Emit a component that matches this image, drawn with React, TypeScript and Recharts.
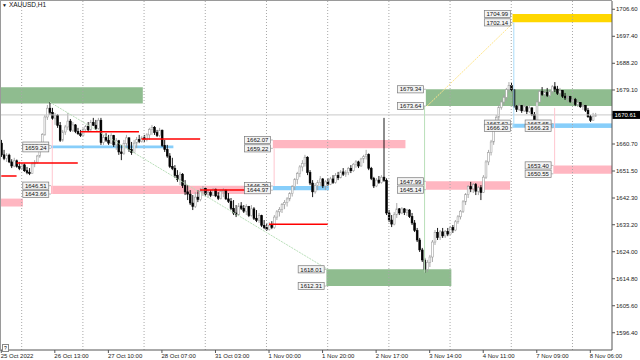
import React from 'react';
import { ComposedChart, Bar, XAxis, YAxis, ReferenceArea, ReferenceLine, ReferenceDot } from 'recharts';

const opens = [
  1661.0,1657.0,1655.8,1656.9,1654.6,1653.2,1655.0,1653.0,1652.4,1653.6,
  1651.6,1651.0,1650.6,1653.9,1654.5,1656.6,1659.8,1663.9,1669.9,1672.9,
  1671.5,1669.5,1670.5,1667.0,1662.0,1664.8,1666.5,1668.5,1665.4,1667.2,
  1665.0,1664.2,1663.6,1665.6,1666.7,1665.5,1668.0,1667.1,1666.0,1668.8,
  1661.2,1662.9,1662.0,1661.0,1663.6,1660.4,1661.8,1658.0,1657.4,1660.9,
  1662.8,1658.8,1657.8,1661.0,1662.2,1661.6,1662.8,1662.2,1663.8,1665.6,
  1666.4,1664.6,1663.6,1665.4,1660.2,1658.8,1656.6,1653.0,1652.4,1650.0,
  1648.6,1650.4,1646.6,1644.4,1643.6,1640.6,1639.4,1642.6,1641.8,1644.6,
  1645.6,1643.6,1644.2,1643.2,1645.3,1643.0,1642.2,1644.6,1644.9,1642.0,
  1641.2,1638.8,1637.2,1636.6,1639.6,1638.8,1637.8,1639.4,1636.3,1638.6,
  1635.4,1634.7,1636.3,1633.0,1632.2,1631.6,1633.0,1632.2,1635.8,1637.6,
  1638.4,1640.1,1640.8,1642.0,1643.8,1646.2,1648.6,1650.6,1652.9,1654.0,
  1656.2,1651.0,1647.4,1644.4,1646.6,1647.6,1648.8,1646.4,1647.8,1647.0,
  1648.8,1647.6,1650.0,1649.2,1651.2,1650.4,1651.0,1652.4,1651.6,1653.8,
  1654.6,1653.2,1655.6,1656.4,1657.2,1652.4,1649.0,1646.4,1648.4,1647.6,
  1649.4,1648.3,1637.2,1634.8,1633.4,1636.6,1638.6,1637.2,1638.6,1637.4,
  1638.2,1636.0,1633.8,1631.2,1628.0,1624.6,1621.2,1618.0,1620.4,1622.2,
  1627.3,1630.6,1628.8,1630.8,1629.4,1630.9,1630.0,1632.2,1631.4,1634.2,
  1635.9,1637.8,1641.0,1643.5,1646.2,1645.4,1646.9,1644.6,1645.8,1644.2,
  1649.4,1654.6,1657.8,1661.4,1666.4,1669.8,1673.2,1675.0,1676.6,1679.2,
  1680.6,1679.2,1673.6,1672.4,1673.8,1672.0,1673.4,1671.8,1673.0,1670.8,
  1668.8,1675.0,1678.6,1677.6,1678.2,1677.2,1678.6,1680.2,1679.4,1678.0,
  1678.9,1677.0,1676.4,1676.9,1675.2,1675.8,1674.2,1674.8,1673.4,1673.8,
  1672.2,1670.0,1668.8,1670.2,
];

const highs = [
  1662.1,1658.7,1657.6,1657.4,1655.5,1656.0,1655.4,1654.6,1654.2,1654.0,
  1652.9,1652.5,1654.6,1655.2,1657.0,1660.4,1664.4,1670.6,1674.0,1675.0,
  1673.0,1671.3,1670.9,1668.2,1665.5,1667.2,1671.3,1669.2,1668.2,1667.5,
  1666.2,1665.5,1666.2,1667.2,1668.2,1668.9,1669.6,1668.9,1669.6,1669.6,
  1663.8,1664.4,1663.8,1664.4,1663.8,1662.7,1662.1,1660.4,1662.1,1663.8,
  1663.0,1661.4,1662.1,1663.1,1663.8,1663.4,1663.8,1664.4,1666.2,1667.2,
  1666.8,1665.5,1666.2,1665.6,1662.1,1660.4,1657.6,1656.0,1653.5,1651.8,
  1651.2,1650.8,1648.4,1646.7,1645.0,1643.3,1644.3,1645.0,1645.7,1646.4,
  1645.9,1645.0,1645.0,1645.7,1645.5,1644.3,1645.0,1645.7,1645.2,1644.0,
  1642.3,1641.6,1639.9,1640.6,1640.9,1639.9,1640.2,1639.6,1639.9,1639.2,
  1638.2,1637.2,1636.6,1634.8,1633.8,1634.1,1634.4,1636.5,1638.2,1639.2,
  1640.6,1641.6,1642.6,1644.3,1646.7,1649.1,1651.2,1653.5,1655.2,1657.0,
  1656.5,1651.8,1648.4,1647.4,1648.4,1649.8,1649.1,1648.4,1649.1,1649.5,
  1650.1,1650.8,1651.2,1651.8,1652.5,1651.8,1652.9,1653.5,1654.2,1655.2,
  1655.0,1656.0,1657.0,1658.7,1657.5,1652.9,1649.5,1649.1,1649.8,1650.1,
  1669.6,1649.0,1638.2,1636.5,1637.5,1640.6,1638.9,1639.2,1638.9,1638.6,
  1638.5,1637.2,1634.8,1632.1,1628.7,1625.3,1621.9,1621.2,1622.9,1628.0,
  1631.4,1632.1,1631.4,1632.1,1631.4,1632.1,1632.8,1633.1,1634.8,1636.5,
  1638.2,1641.6,1644.0,1646.7,1647.8,1647.4,1647.4,1646.4,1646.7,1650.1,
  1655.2,1658.7,1662.1,1667.2,1670.6,1674.0,1675.7,1677.4,1679.8,1681.8,
  1681.5,1679.4,1674.0,1674.7,1674.0,1674.3,1673.6,1674.0,1673.2,1671.6,
  1675.7,1679.1,1680.1,1679.1,1679.8,1679.1,1680.8,1681.8,1680.5,1679.8,
  1679.1,1678.1,1677.4,1677.1,1676.4,1676.4,1675.7,1675.0,1674.3,1674.0,
  1673.0,1670.6,1671.3,1671.3,
];

const lows = [
  1656.3,1655.2,1654.6,1654.2,1652.5,1652.8,1652.6,1651.8,1651.9,1651.2,
  1650.4,1650.1,1650.5,1652.8,1654.0,1656.0,1658.7,1663.5,1668.9,1670.6,
  1668.9,1667.2,1666.2,1661.4,1661.5,1663.8,1665.5,1664.8,1664.8,1664.4,
  1663.8,1663.1,1663.3,1664.8,1665.0,1665.2,1666.8,1665.5,1665.6,1660.4,
  1660.4,1661.4,1660.4,1660.8,1659.7,1658.7,1657.0,1655.2,1657.0,1659.3,
  1658.0,1657.0,1657.6,1659.3,1661.0,1661.2,1661.4,1661.6,1662.1,1663.8,
  1663.8,1663.1,1663.0,1659.7,1658.0,1656.0,1652.5,1651.8,1649.1,1647.8,
  1646.7,1645.7,1643.3,1641.6,1639.9,1638.2,1638.9,1640.9,1641.2,1643.0,
  1643.0,1642.3,1642.6,1643.0,1642.6,1641.6,1641.8,1642.6,1641.6,1640.6,
  1638.2,1636.5,1635.8,1636.2,1638.2,1637.2,1636.5,1635.8,1636.0,1634.8,
  1634.1,1633.8,1632.4,1631.7,1631.1,1631.2,1631.7,1631.8,1634.8,1636.0,
  1637.2,1638.5,1639.4,1641.2,1642.8,1645.0,1647.0,1649.4,1651.4,1653.0,
  1650.1,1646.7,1642.6,1643.8,1645.0,1646.4,1645.7,1645.0,1646.4,1646.7,
  1647.1,1647.2,1648.4,1649.0,1649.8,1649.5,1650.1,1650.8,1651.2,1652.6,
  1652.5,1653.0,1654.2,1655.4,1651.8,1648.4,1645.7,1646.0,1647.1,1647.2,
  1647.8,1636.5,1634.1,1632.4,1633.0,1635.5,1636.5,1636.8,1636.5,1636.2,
  1635.5,1633.1,1630.7,1627.3,1623.9,1620.5,1616.8,1617.1,1618.8,1620.5,
  1626.3,1628.0,1628.0,1628.7,1628.7,1629.3,1629.8,1630.4,1631.0,1633.5,
  1635.0,1637.2,1639.9,1642.3,1644.3,1644.0,1643.3,1643.3,1641.6,1644.0,
  1648.8,1653.5,1656.8,1660.4,1665.5,1668.6,1672.4,1674.0,1675.4,1678.4,
  1678.4,1673.0,1671.6,1672.0,1671.3,1671.6,1670.9,1671.3,1670.2,1668.2,
  1668.4,1674.6,1677.1,1676.4,1676.7,1676.4,1677.7,1678.4,1677.4,1677.1,
  1676.4,1675.7,1675.0,1674.7,1674.3,1673.6,1673.3,1673.0,1672.3,1671.6,
  1669.6,1668.2,1668.6,1670.0,
];

const closes = [
  1657.0,1655.8,1656.9,1654.6,1653.2,1655.0,1653.0,1652.4,1653.6,1651.6,
  1651.0,1650.6,1653.9,1654.5,1656.6,1659.8,1663.9,1669.9,1672.9,1671.5,
  1669.5,1670.5,1667.0,1662.0,1664.8,1666.5,1668.5,1665.4,1667.2,1665.0,
  1664.2,1663.6,1665.6,1666.7,1665.5,1668.0,1667.1,1666.0,1668.8,1661.2,
  1662.9,1662.0,1661.0,1663.6,1660.4,1661.8,1658.0,1657.4,1660.9,1662.8,
  1658.8,1657.8,1661.0,1662.2,1661.6,1662.8,1662.2,1663.8,1665.6,1666.4,
  1664.6,1663.6,1665.4,1660.2,1658.8,1656.6,1653.0,1652.4,1650.0,1648.6,
  1650.4,1646.6,1644.4,1643.6,1640.6,1639.4,1642.6,1641.8,1644.6,1645.6,
  1643.6,1644.2,1643.2,1645.3,1643.0,1642.2,1644.6,1644.9,1642.0,1641.2,
  1638.8,1637.2,1636.6,1639.6,1638.8,1637.8,1639.4,1636.3,1638.6,1635.4,
  1634.7,1636.3,1633.0,1632.2,1631.6,1633.0,1632.2,1635.8,1637.6,1638.4,
  1640.1,1640.8,1642.0,1643.8,1646.2,1648.6,1650.6,1652.9,1654.0,1656.2,
  1651.0,1647.4,1644.4,1646.6,1647.6,1648.8,1646.4,1647.8,1647.0,1648.8,
  1647.6,1650.0,1649.2,1651.2,1650.4,1651.0,1652.4,1651.6,1653.8,1654.6,
  1653.2,1655.6,1656.4,1657.2,1652.4,1649.0,1646.4,1648.4,1647.6,1649.4,
  1648.3,1637.2,1634.8,1633.4,1636.6,1638.6,1637.2,1638.6,1637.4,1638.2,
  1636.0,1633.8,1631.2,1628.0,1624.6,1621.2,1618.0,1620.4,1622.2,1627.3,
  1630.6,1628.8,1630.8,1629.4,1630.9,1630.0,1632.2,1631.4,1634.2,1635.9,
  1637.8,1641.0,1643.5,1646.2,1645.4,1646.9,1644.6,1645.8,1644.2,1649.4,
  1654.6,1657.8,1661.4,1666.4,1669.8,1673.2,1675.0,1676.6,1679.2,1680.6,
  1679.2,1673.6,1672.4,1673.8,1672.0,1673.4,1671.8,1673.0,1670.8,1668.8,
  1675.0,1678.6,1677.6,1678.2,1677.2,1678.6,1680.2,1679.4,1678.0,1678.9,
  1677.0,1676.4,1676.9,1675.2,1675.8,1674.2,1674.8,1673.4,1673.8,1672.2,
  1670.0,1668.8,1670.2,1670.61,
];

const SLOTS = 240;
const xTickIdx = [0, 21, 42, 63, 84, 105, 126, 147, 168, 189, 210, 231];
const xTickLabels = ['25 Oct 2022', '26 Oct 13:00', '27 Oct 10:00', '28 Oct 07:00', '31 Oct 03:00', '1 Nov 00:00', '1 Nov 20:00', '2 Nov 17:00', '3 Nov 14:00', '4 Nov 11:00', '7 Nov 09:00', '8 Nov 06:00'];
const gridIdx = [8, 32, 56, 80, 104, 128, 152, 176, 200, 224];
const priceTicks = [1706.6, 1697.4, 1688.2, 1679.1, 1660.7, 1651.5, 1642.3, 1633.2, 1624.0, 1614.8, 1605.6, 1596.4];
const currentPrice = 1670.61;
const priceDomain = [1590.52, 1709.42];

// [startIdx, endIdx, top, bottom, kind, labeled]
const zones: [number, number, number, number, string, boolean][] = [
  [0, 55, 1680.0, 1674.5, 'green', false],
  [167, 239, 1679.34, 1673.64, 'green', true],
  [201, 239, 1704.99, 1702.14, 'gold', true],
  [20, 105, 1646.51, 1643.66, 'pink', true],
  [20, 67, 1660.15, 1659.24, 'blue', true],
  [107, 158, 1662.07, 1659.22, 'pink', true],
  [107, 128, 1646.39, 1644.97, 'blue', true],
  [128, 176, 1618.01, 1612.31, 'green', true],
  [167, 199, 1647.99, 1645.14, 'pink', true],
  [201, 239, 1667.62, 1666.2, 'blue', true],
  [217, 239, 1667.65, 1666.23, 'blue', true],
  [217, 239, 1653.4, 1650.55, 'pink', true],
  [0, 8, 1642.1, 1639.4, 'pink', false],
];

// [fromIdx, toIdx, price]
const redLevels: [number, number, number][] = [
  [0, 6, 1649.8], [6, 30, 1654.2], [31, 54, 1664.9], [55, 78, 1662.4], [78, 105, 1645.0], [105, 128, 1633.4],
];

// [idx, fromPrice, toPrice, kind]
const markers: [number, number, number, string][] = [
  [20, 1669.0, 1643.66, 'pink'],
  [107, 1659.22, 1646.39, 'pink'],
  [166, 1673.64, 1616.8, 'green'],
  [201, 1702.14, 1666.2, 'blue'],
  [217, 1673.0, 1653.4, 'pink'],
];

// [fromIdx, fromPrice, toIdx, toPrice, kind]
const trendLines: [number, number, number, number, string][] = [
  [19, 1675.0, 128, 1618.01, 'green'],
  [167, 1673.64, 201, 1702.14, 'gold'],
];

const zoneColors: Record<string, string> = { green: '#8fbc8f', gold: '#ffd700', pink: '#ffb6c1', blue: '#87cefa' };
const thinColors: Record<string, string> = { green: '#b9dfb9', gold: '#ffe68a', pink: '#ffc6cf', blue: '#a9dbf8' };
const FONT = '"Liberation Sans", Arial, sans-serif';

const data = Array.from({ length: SLOTS }, (_, i) =>
  i < closes.length
    ? { i, o: opens[i], h: highs[i], l: lows[i], c: closes[i], range: [lows[i], highs[i]] }
    : { i, range: null }
);

const Candle = (props: any) => {
  const { x, y, width, height, payload } = props;
  if (!payload || payload.c == null || height == null) return null;
  const { o, h, l, c } = payload;
  const top = Math.min(y, y + height);
  const hh = Math.abs(height);
  const k = h > l ? hh / (h - l) : 0;
  const yo = top + (h - o) * k;
  const yc = top + (h - c) * k;
  const cx = x + width / 2;
  const bull = c >= o;
  const bodyTop = Math.min(yo, yc);
  const bodyH = Math.max(Math.abs(yc - yo), 0.9);
  const col = bull ? '#a0a0a0' : '#000000';
  return (
    <g>
      <line x1={cx} x2={cx} y1={top} y2={top + hh} stroke={col} strokeWidth={0.9} />
      <rect x={cx - 0.9} y={bodyTop} width={1.8} height={bodyH} fill={bull ? '#ffffff' : '#000000'} stroke={col} strokeWidth={0.6} />
    </g>
  );
};

const PriceTag = ({ cx, cy, value }: { cx: number; cy: number; value: number }) => (
  <g>
    <rect x={cx - 29.5} y={cy - 3.6} width={26} height={7.2} fill="#f4f4f4" stroke="#7a7a7a" strokeWidth={0.7} />
    <line x1={cx - 3.5} x2={cx - 1.3} y1={cy} y2={cy} stroke="#9a9a9a" strokeWidth={0.7} />
    <text x={cx - 16.5} y={cy + 2.2} textAnchor="middle" fontSize={6} fontFamily={FONT} fill="#111">{value.toFixed(2)}</text>
  </g>
);

const XTick = (props: any) => {
  const { x, payload } = props;
  const k = xTickIdx.indexOf(payload.value);
  if (k < 0) return null;
  return (
    <text x={x - 0.5} y={357.5} fontSize={6} fontFamily={FONT} fill="#222" textAnchor="start">{xTickLabels[k]}</text>
  );
};

const YTick = (props: any) => {
  const { y, payload } = props;
  const v = payload.value;
  if (v === currentPrice) {
    return (
      <g>
        <rect x={612.5} y={y - 4} width={27.5} height={8} fill="#000" />
        <text x={614.5} y={y + 2.2} fontSize={6} fontFamily={FONT} fill="#fff">{v.toFixed(2)}</text>
      </g>
    );
  }
  return <text x={616} y={y + 2.2} fontSize={6} fontFamily={FONT} fill="#222">{v.toFixed(2)}</text>;
};

export default function App() {
  return (
    <div style={{ position: 'absolute', left: 0, top: 0, width: 640, height: 360, background: '#fff', overflow: 'hidden' }}>
      <ComposedChart width={640} height={360} data={data} margin={{ top: 1, right: 0, bottom: 0, left: 0 }} barCategoryGap={0} barGap={0}>
        <XAxis
          dataKey="i"
          type="category"
          ticks={xTickIdx}
          interval={0}
          tick={<XTick />}
          tickSize={3}
          tickLine={{ stroke: '#555' }}
          axisLine={{ stroke: '#555' }}
          height={10}
        />
        <YAxis
          orientation="right"
          type="number"
          domain={priceDomain}
          allowDataOverflow
          ticks={[...priceTicks, currentPrice]}
          interval={0}
          tick={<YTick />}
          tickSize={3}
          tickLine={{ stroke: '#555' }}
          axisLine={{ stroke: '#555' }}
          width={28}
        />
        {zones.map(([a, b, top, bot, kind], n) => (
          <ReferenceArea key={'z' + n} x1={a} x2={b} y1={bot} y2={top} fill={zoneColors[kind]} fillOpacity={1} stroke="none" ifOverflow="hidden" />
        ))}
        {gridIdx.map((g) => (
          <ReferenceLine key={'g' + g} x={g} stroke="#a8a8a8" strokeDasharray="1 2" strokeWidth={1} />
        ))}
        <ReferenceLine y={currentPrice} stroke="#c8c8c8" strokeWidth={1} />
        {trendLines.map(([a, pa, b, pb, kind], n) => (
          <ReferenceLine key={'t' + n} segment={[{ x: a, y: pa }, { x: b, y: pb }]} stroke={thinColors[kind]} strokeWidth={1} strokeDasharray="2 1" />
        ))}
        {markers.map(([a, pa, pb, kind], n) => (
          <ReferenceLine key={'m' + n} segment={[{ x: a, y: pa }, { x: a, y: pb }]} stroke={thinColors[kind]} strokeWidth={1} />
        ))}
        <Bar dataKey="range" shape={<Candle />} isAnimationActive={false} />
        {redLevels.map(([a, b, p], n) => (
          <ReferenceLine key={'r' + n} segment={[{ x: a, y: p }, { x: b, y: p }]} stroke="#ff0000" strokeWidth={1.5} />
        ))}
        {zones.filter((z) => z[5]).flatMap(([a, , top, bot], n) => [
          <ReferenceDot key={'lt' + n} x={a} y={top} r={0} shape={(p: any) => <PriceTag cx={p.cx} cy={p.cy} value={top} />} />,
          <ReferenceDot key={'lb' + n} x={a} y={bot} r={0} shape={(p: any) => <PriceTag cx={p.cx} cy={p.cy} value={bot} />} />,
        ])}
      </ComposedChart>
      <div style={{ position: 'absolute', left: 0, top: 0, width: 612, height: 350, borderLeft: '1px solid #9a9a9a', borderTop: '1px solid #9a9a9a', boxSizing: 'border-box', pointerEvents: 'none' }} />
      <div style={{ position: 'absolute', left: 2, top: 1, fontSize: 6.5, fontFamily: FONT, color: '#111', lineHeight: '8px', whiteSpace: 'nowrap' }}>
        <span style={{ fontSize: 5, marginRight: 2 }}>▼</span>XAUUSD,H1
      </div>
      <div style={{ position: 'absolute', left: 2, top: 344, width: 5, height: 6, border: '1px solid #888', fontSize: 5, fontFamily: FONT, lineHeight: '6px', textAlign: 'center', background: '#fff' }}>?</div>
    </div>
  );
}
